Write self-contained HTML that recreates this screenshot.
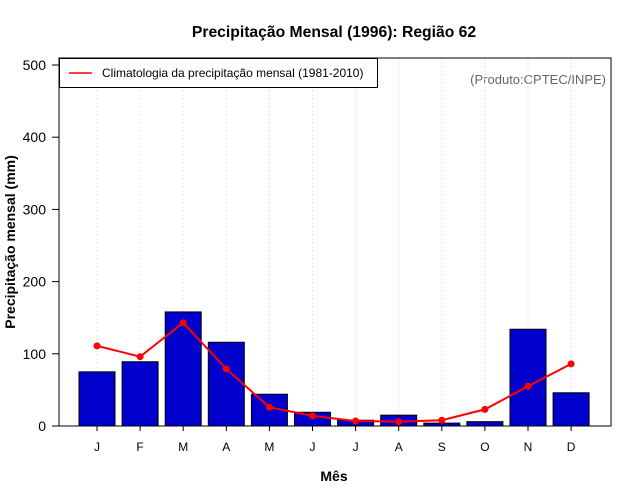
<!DOCTYPE html>
<html><head><meta charset="utf-8"><style>
body{margin:0;background:#fff}
svg{display:block;font-family:"Liberation Sans",sans-serif}
</style></head><body>
<svg id="chart" width="640" height="500">
<text x="334" y="37" text-anchor="middle" font-size="15.7" font-weight="bold">Precipitação Mensal (1996): Região 62</text>
<text x="334" y="481" text-anchor="middle" font-size="14" font-weight="bold">Mês</text>
<text transform="translate(15,242) rotate(-90)" text-anchor="middle" font-size="14" font-weight="bold">Precipitação mensal (mm)</text>
<text x="606" y="84" text-anchor="end" font-size="13" fill="#666">(Produto:CPTEC/INPE)</text>
<g id="grid"></g><g id="bars"></g><g id="line"></g><g id="axes"></g>
<rect x="59" y="58" width="552" height="368" fill="none" stroke="#000" stroke-width="1"/>
<g>
<rect x="59.5" y="58.5" width="318" height="29" fill="#fff" stroke="#000"/>
<line x1="69" y1="73" x2="92" y2="73" stroke="red" stroke-width="1.5"/>
<text x="102" y="77" font-size="12">Climatologia da precipitação mensal (1981-2010)</text>
</g>
</svg>
<script>
const months=["J","F","M","A","M","J","J","A","S","O","N","D"];
const precip=[75,89,158,116,44,19,8,15,4,6,134,46];
const climatology=[111,96,143,79,26,14,7,6,8,23,55,86];
const yTicks=[0,100,200,300,400,500];
const NS="http://www.w3.org/2000/svg";
function xPos(i){return 97+i*43.1;}
function yPos(v){return 426-v*0.722;}
function mk(t,a,p){const e=document.createElementNS(NS,t);for(const k in a)e.setAttribute(k,a[k]);p.appendChild(e);return e;}
const grid=document.getElementById('grid'),bars=document.getElementById('bars'),line=document.getElementById('line'),axes=document.getElementById('axes');
months.forEach((m,i)=>{
 const g=mk('line',{x1:xPos(i),x2:xPos(i),y1:58,y2:426,stroke:'#e6e6e6','stroke-dasharray':'2,2'},grid);
 
 
 const b=mk('rect',{x:xPos(i)-18,y:yPos(precip[i]),width:36,height:precip[i]*0.722,fill:'#0000cc',stroke:'#000','stroke-width':1},bars);
 
 
 const t=mk('line',{x1:xPos(i),x2:xPos(i),y1:426,y2:431,stroke:'#000'},axes);
 
 
 const l=mk('text',{x:xPos(i),y:451,'text-anchor':'middle','font-size':12},axes);
 l.textContent=m;
 
 
});
const pl=mk('polyline',{points:climatology.map((v,i)=>xPos(i)+','+yPos(v)).join(' '),fill:'none',stroke:'red','stroke-width':2},line);


climatology.forEach((v,i)=>{
 const c=mk('circle',{cx:xPos(i),cy:yPos(v),r:3.5,fill:'red'},line);
 
 
});
yTicks.forEach(v=>{
 const t=mk('line',{x1:52,x2:59,y1:yPos(v),y2:yPos(v),stroke:'#000'},axes);
 
 
 const l=mk('text',{x:46,y:yPos(v)+5,'text-anchor':'end','font-size':14},axes);
 l.textContent=v;
 
 
});
</script>
</body></html>
